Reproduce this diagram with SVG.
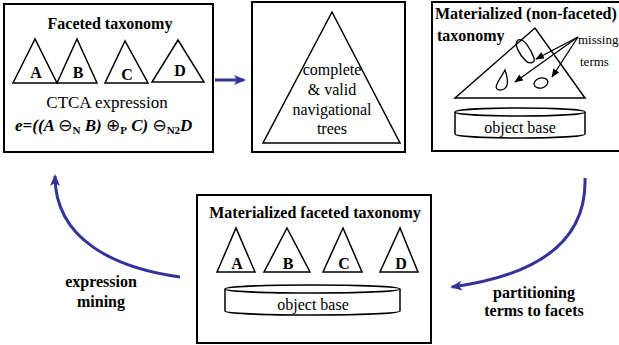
<svg xmlns="http://www.w3.org/2000/svg" width="619" height="345" viewBox="0 0 619 345">
<defs>
<style>
.box{fill:#fff;stroke:#000;stroke-width:2}
.tri{fill:none;stroke:#000;stroke-width:1.5;stroke-linejoin:miter}
.t{font-family:"Liberation Serif","Times New Roman",serif;fill:#000}
.b{font-weight:bold}
.c{text-anchor:middle}
.sym{font-family:"DejaVu Sans",sans-serif;font-weight:normal;font-style:normal}
.sub{font-style:normal;font-weight:bold}
.flow{fill:none;stroke:#333399;stroke-width:3}
.thin{fill:none;stroke:#000;stroke-width:1.3}
.cyl{fill:#fff;stroke:#000;stroke-width:1.5}
</style>
<marker id="ah" viewBox="0 0 12 10" refX="10" refY="5" markerWidth="12" markerHeight="10" markerUnits="userSpaceOnUse" orient="auto">
<path d="M0,0 L12,5 L0,10 L3,5 Z" fill="#333399"/>
</marker>
<marker id="sh" viewBox="0 0 10 8" refX="9" refY="4" markerWidth="9" markerHeight="7" markerUnits="userSpaceOnUse" orient="auto">
<path d="M0,0 L10,4 L0,8 Z" fill="#000"/>
</marker>
</defs>

<g id="faceted-taxonomy">
<rect class="box" x="4" y="4" width="209" height="148"/>
<text class="t b c" x="110" y="29" font-size="16">Faceted taxonomy</text>
<polygon class="tri" points="35,39 13,83 57,83"/>
<polygon class="tri" points="77,39 57,83 97,83"/>
<polygon class="tri" points="125,41 105,83 148,83"/>
<polygon class="tri" points="178,40 152,82 204,82"/>
<text class="t b c" x="36" y="78" font-size="16">A</text>
<text class="t b c" x="78" y="78" font-size="16">B</text>
<text class="t b c" x="127" y="80" font-size="16">C</text>
<text class="t b c" x="180" y="76" font-size="16">D</text>
<text class="t c" x="107" y="108" font-size="17">CTCA expression</text>
<text class="t b" x="15" y="131" font-size="17" font-style="italic">e=((A <tspan class="sym" font-size="17">⊖</tspan><tspan class="sub" font-size="11" dy="3">N</tspan><tspan dy="-3"> B) </tspan><tspan class="sym" font-size="17">⊕</tspan><tspan class="sub" font-size="11" dy="3">P</tspan><tspan dy="-3"> C) </tspan><tspan class="sym" font-size="17">⊖</tspan><tspan class="sub" font-size="11" dy="3">N2</tspan><tspan dy="-3">D</tspan></text>
</g>

<g id="navigational-trees">
<rect class="box" x="252" y="2" width="153" height="150"/>
<polygon class="tri" points="332,12 263,143 400,143"/>
<text class="t c" x="332" y="75" font-size="16">complete</text>
<text class="t c" x="332" y="95" font-size="16">&amp; valid</text>
<text class="t c" x="332" y="115" font-size="16">navigational</text>
<text class="t c" x="332" y="134" font-size="16">trees</text>
</g>

<g id="materialized-non-faceted">
<rect class="box" x="432" y="2" width="190" height="149"/>
<text class="t b" x="435" y="19" font-size="16">Materialized (non-faceted)</text>
<text class="t b" x="437" y="41" font-size="16">taxonomy</text>
<polygon class="tri" points="535,28 455,98 585,98"/>
<path class="thin" d="M518,40 C524,37 531,50 534,58 C536,64 528,64 525,60 C520,55 513,44 518,40 Z"/>
<path class="thin" d="M505,70 C507,76 510,86 504,89 C500,91 494,90 497,84 C499,79 503,74 505,70 Z"/>
<ellipse class="thin" cx="541" cy="83" rx="7" ry="5" transform="rotate(-15 541 83)"/>
<line class="thin" x1="578" y1="37" x2="536" y2="59" marker-end="url(#sh)"/>
<line class="thin" x1="578" y1="37" x2="515" y2="82" marker-end="url(#sh)"/>
<line class="thin" x1="578" y1="37" x2="552" y2="77" marker-end="url(#sh)"/>
<text class="t" x="578" y="44" font-size="13">missing</text>
<text class="t" x="580" y="66" font-size="13">terms</text>
<path class="cyl" d="M455,112 L455,134 A65,4 0 0 0 585,134 L585,112"/>
<ellipse class="cyl" cx="520" cy="112" rx="65" ry="4"/>
<text class="t c" x="520" y="133" font-size="16">object base</text>
</g>

<g id="materialized-faceted">
<rect class="box" x="197" y="195" width="234" height="148"/>
<text class="t b c" x="315" y="218" font-size="16">Materialized faceted taxonomy</text>
<polygon class="tri" points="236,228 217,272 255,272"/>
<polygon class="tri" points="287,228 264,272 310,272"/>
<polygon class="tri" points="343,228 323,272 362,272"/>
<polygon class="tri" points="400,228 380,272 418,272"/>
<text class="t b c" x="237" y="269" font-size="16">A</text>
<text class="t b c" x="288" y="269" font-size="16">B</text>
<text class="t b c" x="344" y="269" font-size="16">C</text>
<text class="t b c" x="401" y="269" font-size="16">D</text>
<path class="cyl" d="M225,289 L225,311 A87.5,4 0 0 0 400,311 L400,289"/>
<ellipse class="cyl" cx="312.5" cy="289" rx="87.5" ry="4"/>
<text class="t c" x="313" y="310" font-size="16">object base</text>
</g>

<g id="connectors">
<line class="flow" x1="215" y1="80" x2="244" y2="80" marker-end="url(#ah)"/>
<path class="flow" d="M585,178 C587,240 540,275 452,287" marker-end="url(#ah)"/>
<path class="flow" d="M180,277 C115,268 55,240 55,176" marker-end="url(#ah)"/>
<text class="t b c" x="101" y="287" font-size="16">expression</text>
<text class="t b c" x="101" y="307" font-size="16">mining</text>
<text class="t b c" x="534" y="298" font-size="16">partitioning</text>
<text class="t b c" x="534" y="316" font-size="16">terms to facets</text>
</g>
</svg>
